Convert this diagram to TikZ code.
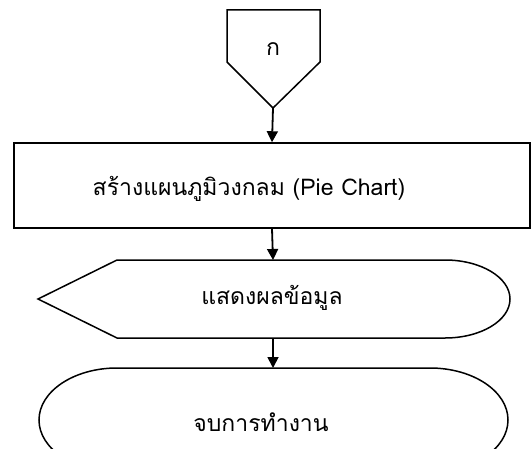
\documentclass[tikz,border=0pt]{standalone}
\usepackage{fontspec}
\newfontfamily\thaifont[Script=Thai]{Loma}
\usetikzlibrary{arrows.meta}
\tikzset{
  shapeline/.style={draw=black, line width=1.5pt, line join=miter},
  flowarrow/.style={line width=1.8pt, -{Triangle[length=11pt,width=11pt]}},
  lbl/.style={font=\thaifont\fontsize{23}{26}\selectfont, inner sep=0pt}
}
\begin{document}
\begin{tikzpicture}[x=1pt,y=1pt]
\useasboundingbox (0,0) rectangle (532,448);
\begin{scope}
\clip (0,0) rectangle (532,448);
% off-page connector
\draw[shapeline] (227,438) -- (320,438) -- (320,386) -- (273,340) -- (227,386) -- cycle;
\node[lbl] (conn) at (273,399) {ก};
\coordinate (connB) at (273,340);
% process
\node[shapeline, minimum width=516pt, minimum height=85pt, inner sep=0pt] (proc) at (272,262.5) {};
\node[lbl] (procT) at (249,259) {สร้างแผนภูมิวงกลม (Pie Chart)};
% display
\draw[shapeline] (38,149) -- (117,188) -- (445,188) arc[start angle=90, end angle=-90, x radius=65, y radius=39] -- (117,110) -- cycle;
\node[lbl] (disp) at (272,150) {แสดงผลข้อมูล};
\coordinate (dispT) at (273,188);
\coordinate (dispB) at (273,110);
% terminal
\draw[shapeline] (117,80) -- (430,80) arc[start angle=90, end angle=-90, x radius=78, y radius=52] -- (117,-24) arc[start angle=270, end angle=90, x radius=78, y radius=52] -- cycle;
\node[lbl] (term) at (261,26) {จบการทำงาน};
\coordinate (termT) at (273,80);
\end{scope}
\draw[flowarrow] (connB) -- (proc.north);
\draw[flowarrow] (proc.south) -- (dispT);
\draw[flowarrow] (dispB) -- (termT);
\end{tikzpicture}
\end{document}
